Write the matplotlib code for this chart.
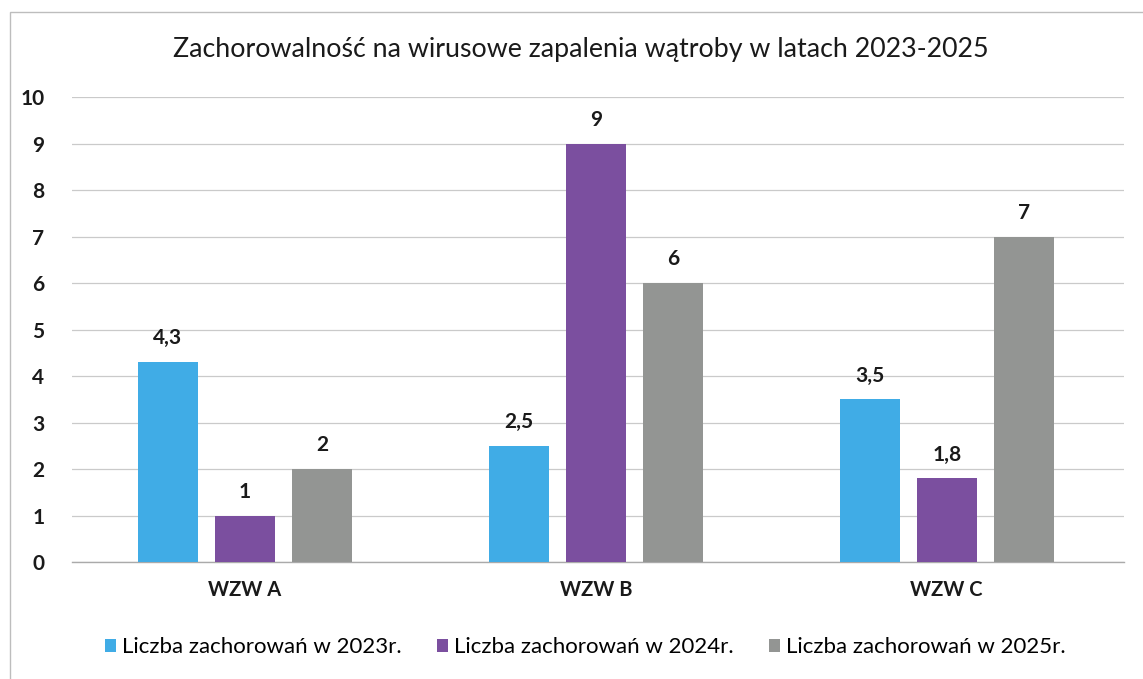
import matplotlib
matplotlib.use("Agg")
import matplotlib.pyplot as plt
import numpy as np
from matplotlib.patches import Rectangle

categories = ["WZW A", "WZW B", "WZW C"]
series_names = ["Liczba zachorowań w 2023r.", "Liczba zachorowań w 2024r.", "Liczba zachorowań w 2025r."]
values_2023 = [4.3, 2.5, 3.5]
values_2024 = [1, 9, 1.8]
values_2025 = [2, 6, 7]
colors = ["#40ACE6", "#7B4F9F", "#939593"]
title = "Zachorowalność na wirusowe zapalenia wątroby w latach 2023-2025"
yticks = list(range(0, 11))

plt.rcParams['font.family'] = ['Lato', 'DejaVu Sans']

fig = plt.figure(figsize=(11.43, 6.79), dpi=100)
ax = fig.add_axes([0.063, 0.172, 0.920, 0.685])

x = np.arange(len(categories))
width = 0.171
offset = 0.220
series = [values_2023, values_2024, values_2025]
for i, (vals, name, c) in enumerate(zip(series, series_names, colors)):
    pos = x + (i - 1) * offset
    ax.bar(pos, vals, width, color=c, label=name, zorder=3)
    for xp, v in zip(pos, vals):
        lab = ("%g" % v).replace(".", ",")
        ax.annotate(lab, (xp, v), xytext=(0, 10), textcoords="offset points",
                    ha="center", va="bottom", fontsize=15, fontweight="bold", color="#1a1a1a")

ax.set_xlim(-0.493, 2.504)
ax.set_ylim(0, 10)
ax.set_yticks(yticks)
ax.set_yticklabels([str(t) for t in yticks], fontsize=15, fontweight="bold", color="#1a1a1a")
ax.set_xticks(x)
ax.set_xticklabels(categories, fontsize=14.5, fontweight="bold", color="#1a1a1a")
ax.tick_params(axis="both", length=0)
ax.tick_params(axis="y", pad=20)
ax.tick_params(axis="x", pad=13)
ax.grid(axis="y", color="#CACACA", linewidth=0.9, zorder=0)
for s in ["top", "right", "left"]:
    ax.spines[s].set_visible(False)
ax.spines["bottom"].set_color("#AAAAAA")
ax.spines["bottom"].set_linewidth(1.0)

fig.text(0.508, 0.927, title, ha="center", va="center", fontsize=19.3, color="#1a1a1a")

fig.legend(loc="center", bbox_to_anchor=(0.512, 0.047), ncol=3, frameon=False,
           fontsize=16, handlelength=0.5, handleheight=0.5, handletextpad=0.25,
           columnspacing=1.6)

fig.patches.append(Rectangle((10 / 1143, -0.1), 1.2, (679 - 12) / 679 + 0.1,
                             transform=fig.transFigure, fill=False,
                             edgecolor="#BDBDBD", linewidth=1.0))

fig.savefig("out.png", dpi=100)
